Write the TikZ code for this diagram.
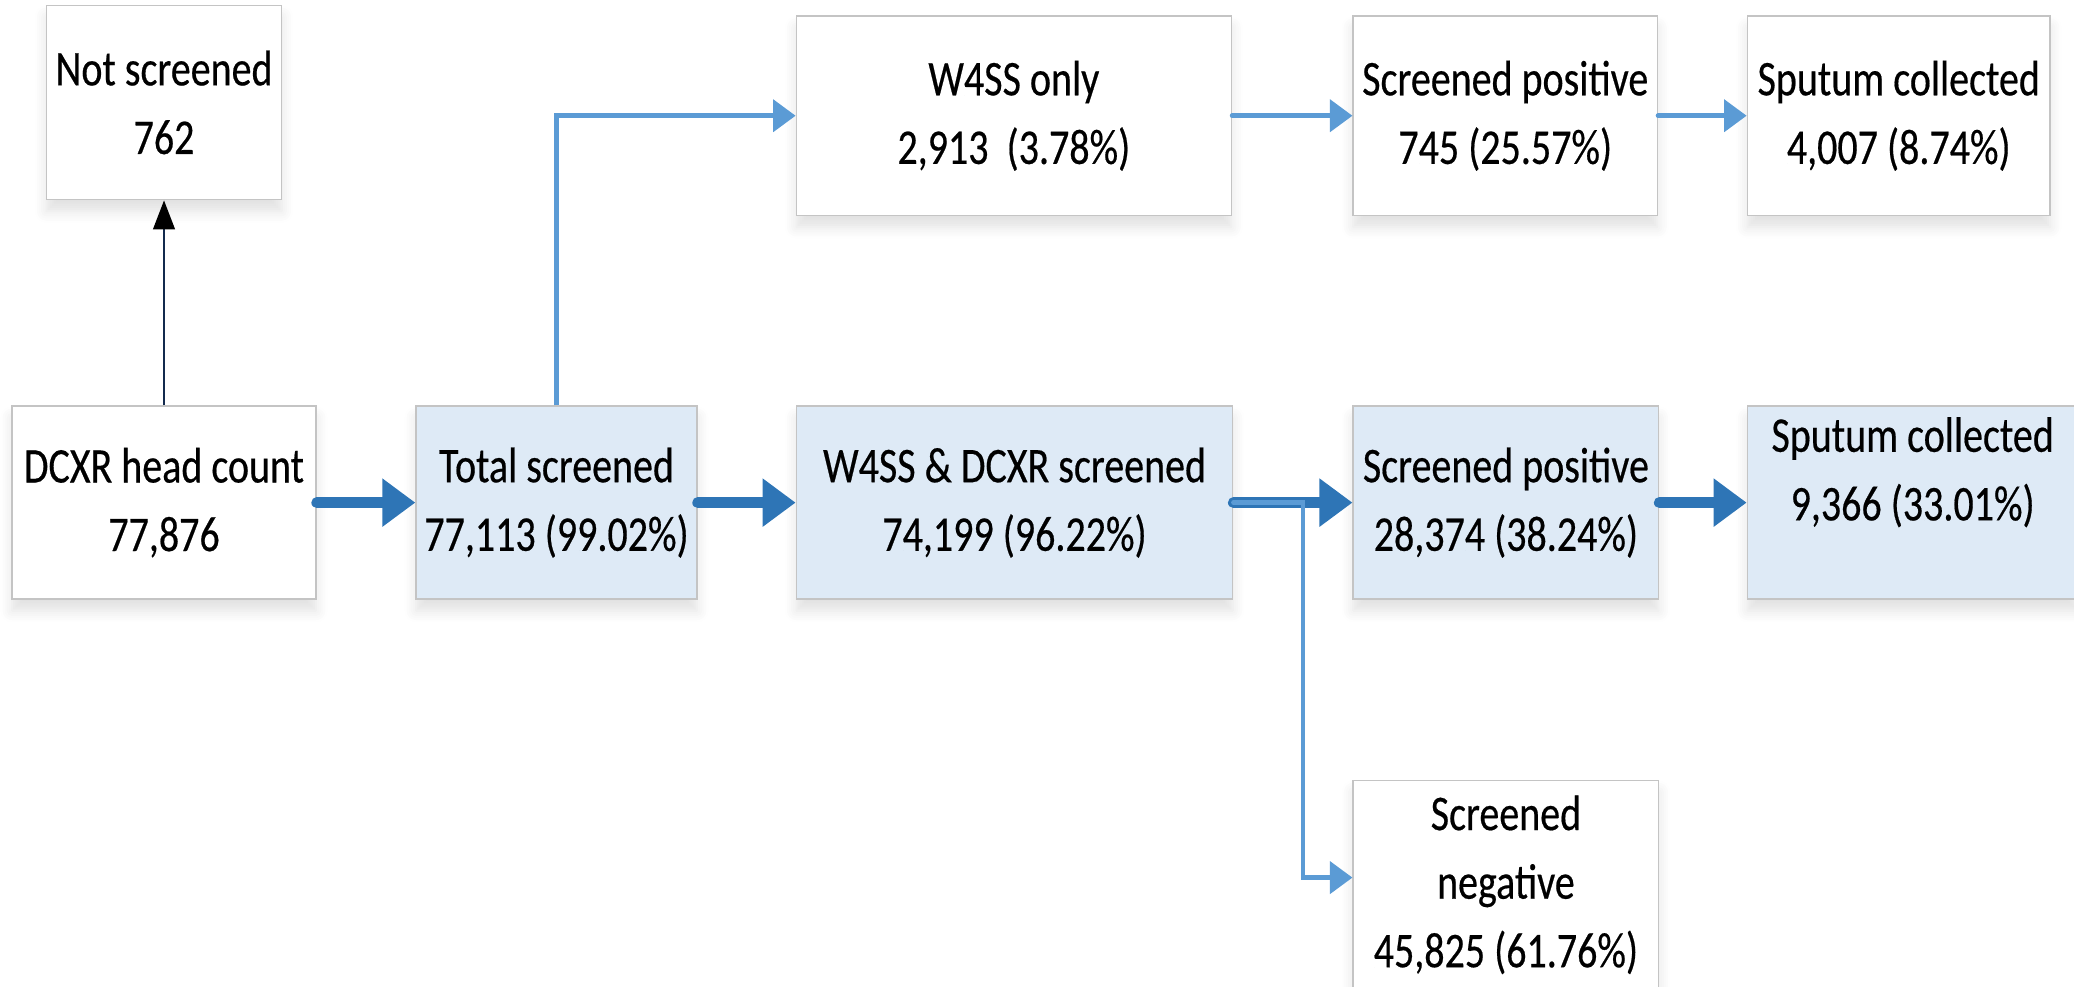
\documentclass[tikz,border=0pt]{standalone}
\usepackage{fontspec}
\setmainfont{Carlito}[FakeStretch=0.8, FakeBold=0.4]
\usetikzlibrary{arrows.meta,calc,shadows.blur}

\definecolor{boxline}{HTML}{C4C4C4}
\definecolor{boxfill}{HTML}{DEEAF6}
\definecolor{flowdark}{HTML}{2E75B6}
\definecolor{flowlight}{HTML}{5B9BD5}
\definecolor{navyline}{HTML}{132A4E}

\newcommand\boxfont{\fontsize{21.5pt}{29.5pt}\selectfont}

\tikzset{
  box/.style={draw=boxline, line width=0.6pt, fill=white, rectangle,
    inner sep=0pt, align=center, font=\boxfont,
    blur shadow={shadow xshift=0pt, shadow yshift=-5pt,
      shadow opacity=12, shadow blur steps=6, shadow blur radius=5pt}},
  hbox/.style={box, fill=boxfill},
  boxtext/.style={inner sep=0pt, align=center, font=\boxfont, anchor=north},
  mainflow/.style={draw=flowdark, line width=0.166cm, line cap=round,
    -{Triangle[length=0.5cm, width=0.7cm]}},
  sideflow/.style={draw=flowlight, line width=0.07cm,
    -{Triangle[length=0.34cm, width=0.48cm]}},
  upflow/.style={draw=navyline, line width=0.03cm,
    -{Triangle[length=0.44cm, width=0.33cm, black]}},
}

\begin{document}
\begin{tikzpicture}[x=0.02cm, y=-0.02cm]
  \path[use as bounding box, clip] (0,0) rectangle (1568,746);

  % upper row
  \node[box, minimum width=3.56cm, minimum height=2.94cm] (notscr) at (124,77.5)
    {Not screened\\762};
  \node[box, minimum width=6.58cm, minimum height=3.02cm] (w4only) at (766.5,87.5)
    {W4SS only\\2,913~ (3.78\%)};
  \node[box, minimum width=4.60cm, minimum height=3.02cm] (posA) at (1138,87.5)
    {Screened positive\\745 (25.57\%)};
  \node[box, minimum width=4.58cm, minimum height=3.02cm] (sputA) at (1435.5,87.5)
    {Sputum collected\\4,007 (8.74\%)};

  % main row
  \node[box, minimum width=4.60cm, minimum height=2.92cm] (dcxr) at (124,380)
    {DCXR head count\\77,876};
  \node[hbox, minimum width=4.25cm, minimum height=2.92cm] (total) at (420.75,380)
    {Total screened\\77,113 (99.02\%)};
  \node[hbox, minimum width=6.60cm, minimum height=2.92cm] (both) at (767,380)
    {W4SS \& DCXR screened\\74,199 (96.22\%)};
  \node[hbox, minimum width=4.62cm, minimum height=2.92cm] (posB) at (1138.5,380)
    {Screened positive\\28,374 (38.24\%)};
  \node[hbox, minimum width=5.00cm, minimum height=2.92cm] (sputB) at (1446,380) {};
  \node[boxtext] (sputBtxt) at (1446,315) {Sputum collected\\9,366 (33.01\%)};

  % negative branch
  \node[box, minimum width=4.62cm, minimum height=3.40cm] (neg) at (1138.5,675) {};
  \node[boxtext] (negtxt) at (1138.5,601) {Screened\\negative\\45,825 (61.76\%)};
  \coordinate (negin) at ($(neg.north west)+(0,74)$);
  \coordinate (split) at (985,380);

  % connectors
  \draw[upflow] (dcxr.north) -- (notscr.south);
  \draw[mainflow] (dcxr.east) -- (total.west);
  \draw[mainflow] (total.east) -- (both.west);
  \draw[mainflow] (both.east) -- (posB.west);
  \draw[mainflow] (posB.east) -- (sputB.west);
  \draw[sideflow] (total.north) |- (w4only.west);
  \draw[sideflow, line cap=round] (w4only.east) -- (posA.west);
  \draw[sideflow, line cap=round] (posA.east) -- (sputA.west);
  \draw[sideflow, line cap=round] (both.east) -- (split) |- (negin);
\end{tikzpicture}
\end{document}
